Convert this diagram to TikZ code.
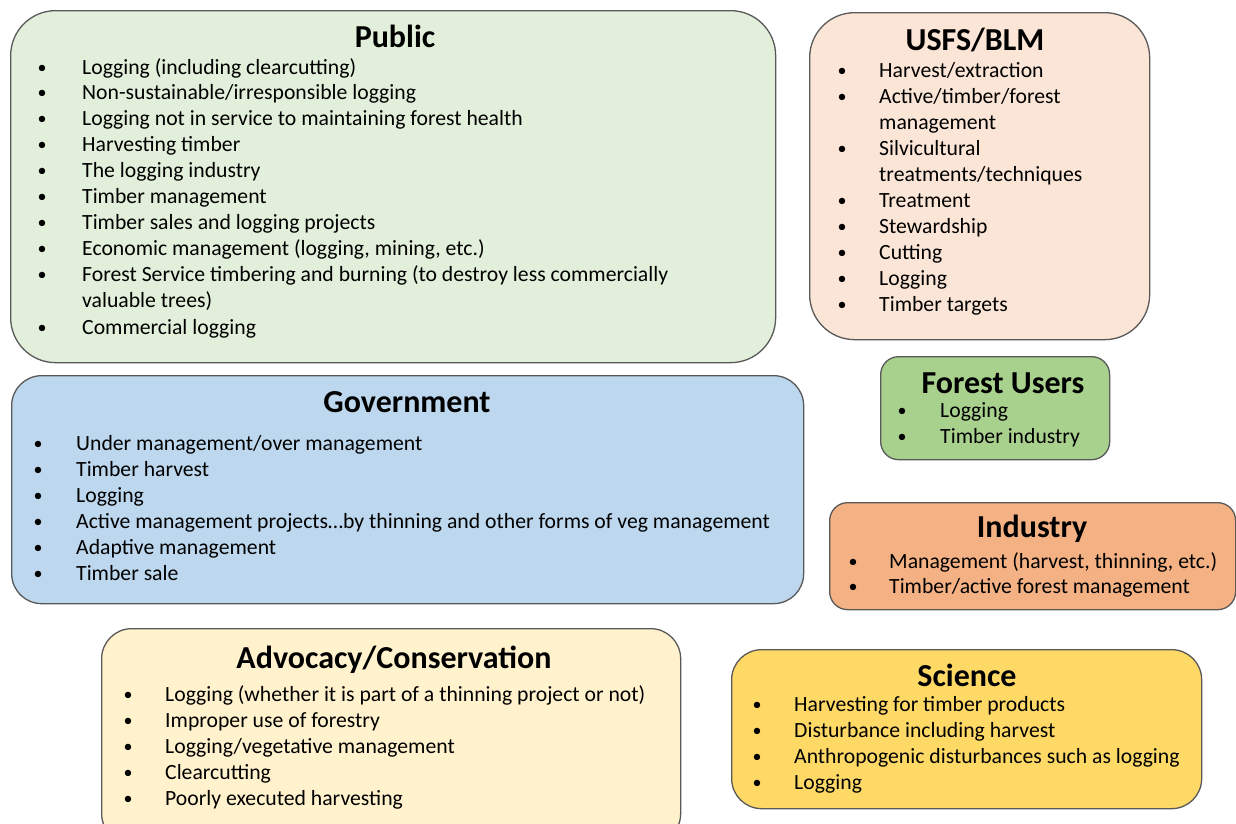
\documentclass[tikz,border=0pt]{standalone}
\usepackage{fontspec}
\setmainfont{Carlito}
\usetikzlibrary{positioning}
\definecolor{fillPub}{HTML}{E2EFDA}
\definecolor{fillUsfs}{HTML}{FBE5D6}
\definecolor{fillUsers}{HTML}{A9D18E}
\definecolor{fillGov}{HTML}{BDD7EE}
\definecolor{fillInd}{HTML}{F4B183}
\definecolor{fillAdv}{HTML}{FFF2CC}
\definecolor{fillSci}{HTML}{FFD966}
\definecolor{boxline}{HTML}{595959}
\tikzset{
  % group boxes
  grpbox/.style = {draw=boxline, line width=1.3pt, rounded corners=#1,
                   anchor=north west, inner sep=0pt},
  % titles and list lines (placed on their baselines)
  ttl/.style    = {font=\bfseries\fontsize{32}{36}\selectfont, inner sep=0pt},
  itm/.style    = {font=\fontsize{21.7}{26}\selectfont, anchor=base west,
                   inner sep=0pt, yshift=-7pt},
  bul/.style    = {font=\fontsize{18}{22}\selectfont, anchor=base,
                   inner sep=0pt, yshift=-6pt},
}
\begin{document}
\begin{tikzpicture}[x=1pt, y=-1pt]
  \clip (0,0) rectangle (1236,823);
  % boxes
  \node[grpbox=45, fill=fillPub, minimum width=765, minimum height=352] (pub) at (10,10) {};
  \node[grpbox=45, fill=fillUsfs, minimum width=340, minimum height=327] (usfs) at (809,12) {};
  \node[grpbox=18, fill=fillUsers, minimum width=229, minimum height=103] (users) at (880,356) {};
  \node[grpbox=30, fill=fillGov, minimum width=792, minimum height=228] (gov) at (11,375) {};
  \node[grpbox=18, fill=fillInd, minimum width=406, minimum height=107] (ind) at (829,502) {};
  \node[grpbox=30, fill=fillAdv, minimum width=579, minimum height=215] (adv) at (101,628) {};
  \node[grpbox=30, fill=fillSci, minimum width=470, minimum height=159] (sci) at (731,649) {};

  % Public
  \node[ttl] (pub-t) at (395,36) {Public};
  \foreach \yy/\t [count=\i] in {67/{Logging (including clearcutting)},
      92/{Non-sustainable/irresponsible logging},
      118/{Logging not in service to maintaining forest health},
      144/{Harvesting timber}, 170/{The logging industry},
      196/{Timber management}, 222/{Timber sales and logging projects},
      248/{Economic management (logging, mining, etc.)},
      274/{Forest Service timbering and burning (to destroy less commercially},
      327/{Commercial logging}} {
    \node[bul] (pub-b\i) at (42,\yy) {\textbullet};
    \node[itm] (pub-\i) at (82,\yy) {\t};
  }
  \node[itm] (pub-9x) at (82,300) {valuable trees)};

  % USFS/BLM
  \node[ttl] (usfs-t) at (975,40) {USFS/BLM};
  \foreach \yy/\t [count=\i] in {70/{Harvest/extraction},
      96/{Active/timber/forest}, 148/{Silvicultural},
      200/{Treatment}, 226/{Stewardship}, 252/{Cutting},
      278/{Logging}, 304/{Timber targets}} {
    \node[bul] (usfs-b\i) at (842,\yy) {\textbullet};
    \node[itm] (usfs-\i) at (879,\yy) {\t};
  }
  \node[itm] (usfs-2x) at (879,122) {management};
  \node[itm] (usfs-3x) at (879,174) {treatments/techniques};

  % Forest Users
  \node[ttl] (users-t) at (1003,383) {Forest Users};
  \foreach \yy/\t [count=\i] in {410/{Logging}, 436/{Timber industry}} {
    \node[bul] (users-b\i) at (902,\yy) {\textbullet};
    \node[itm] (users-\i) at (940,\yy) {\t};
  }

  % Government
  \node[ttl] (gov-t) at (407,402) {Government};
  \foreach \yy/\t [count=\i] in {443/{Under management/over management},
      469/{Timber harvest}, 495/{Logging},
      521/{Active management projects…by thinning and other forms of veg management},
      547/{Adaptive management}, 573/{Timber sale}} {
    \node[bul] (gov-b\i) at (38,\yy) {\textbullet};
    \node[itm] (gov-\i) at (76,\yy) {\t};
  }

  % Industry
  \node[ttl] (ind-t) at (1032,529) {Industry};
  \foreach \yy/\t [count=\i] in {561/{Management (harvest, thinning, etc.)},
      586/{Timber/active forest management}} {
    \node[bul] (ind-b\i) at (853,\yy) {\textbullet};
    \node[itm] (ind-\i) at (889,\yy) {\t};
  }

  % Advocacy/Conservation
  \node[ttl] (adv-t) at (394,660) {Advocacy/Conservation};
  \foreach \yy/\t [count=\i] in {694/{Logging (whether it is part of a thinning project or not)},
      720/{Improper use of forestry}, 746/{Logging/vegetative management},
      772/{Clearcutting}, 798/{Poorly executed harvesting}} {
    \node[bul] (adv-b\i) at (128,\yy) {\textbullet};
    \node[itm] (adv-\i) at (165,\yy) {\t};
  }

  % Science
  \node[ttl] (sci-t) at (967,675) {Science};
  \foreach \yy/\t [count=\i] in {704/{Harvesting for timber products},
      730/{Disturbance including harvest},
      756/{Anthropogenic disturbances such as logging}, 782/{Logging}} {
    \node[bul] (sci-b\i) at (757,\yy) {\textbullet};
    \node[itm] (sci-\i) at (794,\yy) {\t};
  }
\end{tikzpicture}
\end{document}
